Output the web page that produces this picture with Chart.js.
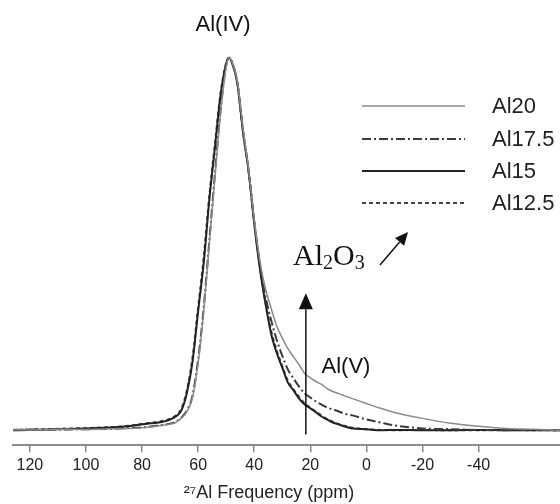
<!DOCTYPE html>
<html>
<head>
<meta charset="utf-8">
<script src="https://cdn.jsdelivr.net/npm/chart.js@4.4.1/dist/chart.umd.min.js"></script>
<style>
  html, body { margin: 0; padding: 0; background: #fff; }
  #wrap { width: 560px; height: 504px; position: relative; }
</style>
</head>
<body>
<div id="wrap"><canvas id="myChart"></canvas></div>
<script>
// chemical shift (ppm), shared by all four spectra
var ppm = [126, 120, 110, 100, 90, 85, 80, 77, 74, 72, 70, 68, 66, 64, 62, 60, 58, 56, 54, 52,
  50, 49, 48, 46, 44, 42, 40, 38, 36, 34, 32, 30, 28, 26, 24, 22, 20, 18, 16, 14,
  12, 10, 8, 5, 0, -5, -10, -20, -30, -40, -50, -60, -69];

// normalised intensity (%)
var al20 = [0.2, 0.1, 0.3, 0.2, 0.4, 0.5, 0.7, 0.9, 1.2, 1.4, 1.6, 2.1, 3.2, 5.0, 8.8, 18, 32, 50, 68, 85,
  97.5, 100, 99, 93.6, 81, 70, 56.5, 45.5, 38, 32.8, 28, 24.8, 21.9, 19.7, 17.6, 15.2, 14.1, 13.1, 12.3, 11.2,
  10.4, 9.9, 9.3, 8.5, 7.2, 5.9, 4.8, 3.2, 1.9, 1.1, 0.5, 0.3, 0];
var al175 = [0.1, 0.2, 0.2, 0.3, 0.4, 0.6, 0.8, 1.0, 1.3, 1.5, 1.8, 2.3, 3.4, 5.3, 9.3, 19, 33, 51, 69, 86,
  98, 100, 99, 93.2, 80.5, 69.5, 56, 45, 36, 29.6, 24.3, 20, 16.3, 13.9, 11.7, 9.9, 8.8, 7.7, 6.9, 6.1,
  5.6, 5.1, 4.5, 4.0, 2.9, 2.1, 1.3, 0.5, 0.3, 0.1, 0, 0.1, 0];
var al15 = [0, 0.1, 0.3, 0.5, 0.8, 1.1, 1.6, 1.9, 2.1, 2.4, 2.9, 3.7, 5.3, 10.1, 18.4, 32, 45, 62, 76, 90,
  98.4, 100, 98.8, 93, 80, 69.5, 55.5, 43.5, 34, 26, 20.8, 16.8, 12.8, 10.7, 8.5, 6.9, 5.9, 4.8, 3.7, 2.9,
  2.1, 1.6, 1.1, 0.5, 0.3, 0, 0.1, 0, 0, 0.1, 0, 0, 0];
var al125 = [0.1, 0.2, 0.4, 0.6, 0.9, 1.2, 1.7, 2.0, 2.3, 2.6, 3.1, 4.0, 5.8, 10.8, 19.5, 33, 46.5, 63, 77, 90.5,
  98.6, 100, 98.8, 93.2, 80.3, 69.8, 55.8, 44, 34.5, 26.8, 21.5, 17.2, 13.3, 11, 8.9, 7.2, 6.1, 5.0, 3.9, 3.0,
  2.3, 1.7, 1.2, 0.7, 0.3, 0.1, 0, 0.1, 0, 0, 0.1, 0, 0];

var seriesNames = ['Al20', 'Al17.5', 'Al15', 'Al12.5'];
var tickValues = [120, 100, 80, 60, 40, 20, 0, -20, -40];

var SANS = "'Liberation Sans', Arial, sans-serif";

function pts(vals) {
  return ppm.map(function (p, i) { return { x: p, y: vals[i] }; });
}

function arrow(ctx, x1, y1, x2, y2, head, half) {
  var a = Math.atan2(y2 - y1, x2 - x1);
  var bx = x2 - head * Math.cos(a), by = y2 - head * Math.sin(a);
  ctx.beginPath();
  ctx.moveTo(x1, y1);
  ctx.lineTo(bx, by);
  ctx.stroke();
  ctx.beginPath();
  ctx.moveTo(x2, y2);
  ctx.lineTo(bx + half * Math.sin(a), by - half * Math.cos(a));
  ctx.lineTo(bx - half * Math.sin(a), by + half * Math.cos(a));
  ctx.closePath();
  ctx.fill();
}

// labels, arrows and the line-sample legend
var notes = {
  id: 'notes',
  afterDatasetsDraw: function (chart) {
    var ctx = chart.ctx, xs = chart.scales.x, ys = chart.scales.y;
    ctx.save();
    ctx.fillStyle = '#111';
    ctx.strokeStyle = '#111';
    ctx.textBaseline = 'middle';

    // legend
    var rows = [106, 139, 171, 203];
    chart.data.datasets.forEach(function (ds, i) {
      ctx.save();
      ctx.strokeStyle = ds.borderColor;
      ctx.lineWidth = ds.borderWidth;
      ctx.setLineDash(ds.borderDash || []);
      ctx.beginPath();
      ctx.moveTo(362, rows[i]);
      ctx.lineTo(465, rows[i]);
      ctx.stroke();
      ctx.restore();
      ctx.font = '22px ' + SANS;
      ctx.textAlign = 'left';
      ctx.fillStyle = '#222';
      ctx.fillText(ds.label, 492, rows[i] + 1);
    });

    ctx.fillStyle = '#111';
    ctx.font = '22px ' + SANS;
    ctx.textAlign = 'center';
    ctx.fillText('Al(IV)', 223, 25);
    ctx.fillText('Al(V)', 346, 367);

    // Al2O3 with subscripts
    ctx.textAlign = 'left';
    ctx.textBaseline = 'alphabetic';
    var big = "30px 'Liberation Serif', 'Times New Roman', serif";
    var small = "20px 'Liberation Serif', 'Times New Roman', serif";
    var cx = 293, base = 265;
    [['Al', big, 0], ['2', small, 4], ['O', big, 0], ['3', small, 4]].forEach(function (p) {
      ctx.font = p[1];
      ctx.fillText(p[0], cx, base + p[2]);
      cx += ctx.measureText(p[0]).width;
    });

    ctx.lineWidth = 1.5;
    arrow(ctx, 380, 265, 408, 232, 13, 6);

    // vertical arrow at the Al(V) position
    var ax = xs.getPixelForValue(21.6);
    arrow(ctx, ax, ys.getPixelForValue(-1.1), ax, ys.getPixelForValue(36.8), 16, 7);

    ctx.restore();
  }
};

var ctx = document.getElementById('myChart').getContext('2d');

var myChart = new Chart(ctx, {
  type: 'line',
  data: {
    datasets: [
      {
        label: seriesNames[0],
        data: pts(al20),
        borderColor: '#8a8a8a',
        borderWidth: 1.5
      },
      {
        label: seriesNames[1],
        data: pts(al175),
        borderColor: '#3a3a3a',
        borderWidth: 2,
        borderDash: [9, 3, 2, 3]
      },
      {
        label: seriesNames[2],
        data: pts(al15),
        borderColor: '#222',
        borderWidth: 2
      },
      {
        label: seriesNames[3],
        data: pts(al125),
        borderColor: '#444',
        borderWidth: 2,
        borderDash: [4, 3]
      }
    ]
  },
  options: {
    responsive: true,
    maintainAspectRatio: false,
    animation: false,
    layout: { padding: { left: 13, right: 0, top: 0, bottom: 0 } },
    elements: {
      point: { radius: 0 },
      line: { cubicInterpolationMode: 'monotone', fill: false }
    },
    plugins: {
      legend: { display: false },
      tooltip: { enabled: false }
    },
    scales: {
      x: {
        type: 'linear',
        reverse: true,
        min: -69,
        max: 126,
        afterBuildTicks: function (scale) {
          scale.ticks = tickValues.map(function (v) { return { value: v }; });
        },
        border: { display: true, color: '#8c8c8c', width: 2 },
        grid: { display: true, drawOnChartArea: false, drawTicks: true, tickLength: 7, color: '#8c8c8c', lineWidth: 1.5 },
        ticks: {
          color: '#222',
          padding: 4,
          maxRotation: 0,
          font: { family: SANS, size: 16 },
          callback: function (v) { return String(v); }
        },
        title: {
          display: true,
          // trailing spaces pull the centred title a little to the left, as in the figure
          text: '²⁷Al Frequency (ppm)\u00a0\u00a0\u00a0\u00a0\u00a0\u00a0\u00a0',
          color: '#222',
          padding: { top: 3, bottom: 0 },
          font: { family: SANS, size: 18 }
        }
      },
      y: {
        display: false,
        min: -4,
        max: 115.5
      }
    }
  },
  plugins: [notes]
});
</script>
</body>
</html>
